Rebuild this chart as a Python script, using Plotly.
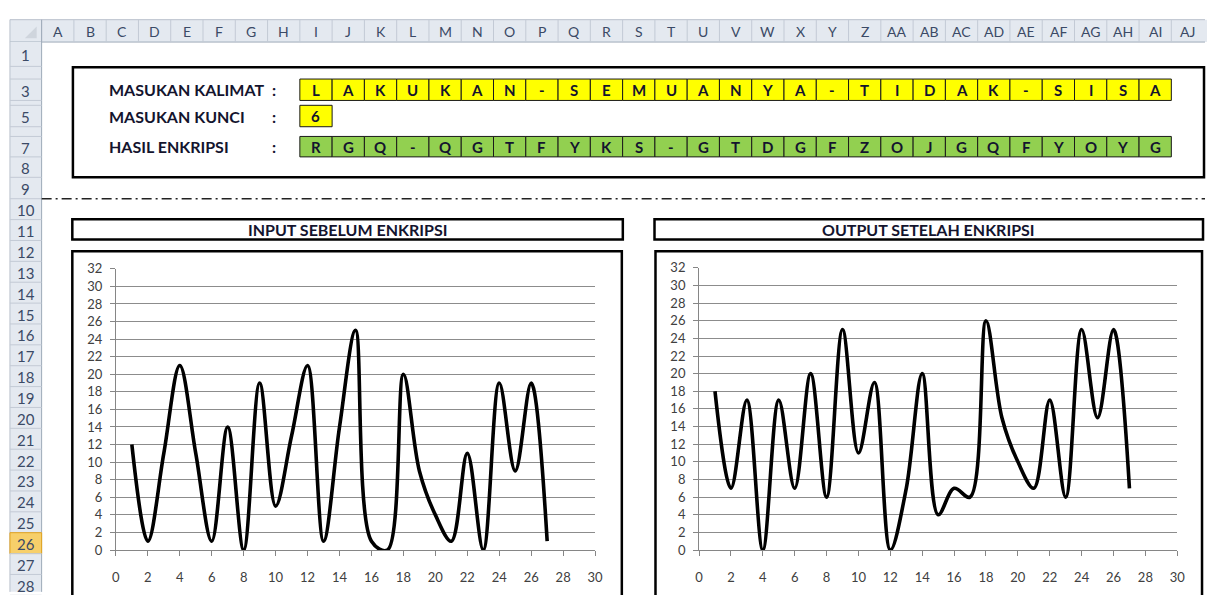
import plotly.graph_objects as go

# ---------------- data ----------------
kalimat = ["L", "A", "K", "U", "K", "A", "N", "-", "S", "E", "M", "U", "A", "N",
           "Y", "A", "-", "T", "I", "D", "A", "K", "-", "S", "I", "S", "A"]
kunci = "6"
hasil = ["R", "G", "Q", "-", "Q", "G", "T", "F", "Y", "K", "S", "-", "G", "T",
         "D", "G", "F", "Z", "O", "J", "G", "Q", "F", "Y", "O", "Y", "G"]
posisi = list(range(1, 28))
nilai_input = [12, 1, 11, 21, 11, 1, 14, 0, 19, 5, 13, 21, 1, 14, 25, 1, 0, 20,
               9, 4, 1, 11, 0, 19, 9, 19, 1]
nilai_output = [18, 7, 17, 0, 17, 7, 20, 6, 25, 11, 19, 0, 7, 20, 4, 7, 6, 26,
                15, 10, 7, 17, 6, 25, 15, 25, 7]
kolom = ["A", "B", "C", "D", "E", "F", "G", "H", "I", "J", "K", "L", "M", "N",
         "O", "P", "Q", "R", "S", "T", "U", "V", "W", "X", "Y", "Z", "AA", "AB",
         "AC", "AD", "AE", "AF", "AG", "AH", "AI", "AJ"]
baris = ["1", "2", "3", "4", "5", "6", "7", "8", "9", "10", "11", "12", "13",
         "14", "15", "16", "17", "18", "19", "20", "21", "22", "23", "24", "25",
         "26", "27", "28"]
label_kalimat = "MASUKAN KALIMAT"
label_kunci = "MASUKAN KUNCI"
label_hasil = "HASIL ENKRIPSI"
judul_input = "INPUT SEBELUM ENKRIPSI"
judul_output = "OUTPUT SETELAH ENKRIPSI"

# ---------------- geometry (pixels) ----------------
W, H = 1213, 595
FONT = "Lato"
COL_X0, COL_W = 38.0, 32.6
ROWHDR_X0 = 6
HDR_Y0, HDR_Y1 = 12, 35
row_bounds = {1: (35, 60), 2: (60, 73), 3: (73, 95), 4: (95, 100), 5: (100, 122),
              6: (122, 132), 7: (132, 153), 8: (153, 174), 9: (174, 196)}
ROW_H = 21.45
for n in range(10, 29):
    row_bounds[n] = (196 + (n - 10) * ROW_H, 196 + (n - 9) * ROW_H)


def cx(i):
    return COL_X0 + i * COL_W


def X(px):
    return px / W


def Y(py):
    return 1 - py / H


shapes = []
ann = []


def rect(x0, y0, x1, y1, fill=None, color=None, lw=1):
    shapes.append(dict(type="rect", xref="paper", yref="paper", layer="below",
                       x0=X(x0), x1=X(x1), y0=Y(y1), y1=Y(y0),
                       fillcolor=fill if fill else "rgba(0,0,0,0)",
                       line=dict(color=color if color else "rgba(0,0,0,0)",
                                 width=lw if color else 0)))


def seg(x0, y0, x1, y1, color, lw=1, dash=None):
    d = dict(color=color, width=lw)
    if dash:
        d["dash"] = dash
    shapes.append(dict(type="line", xref="paper", yref="paper", layer="below",
                       x0=X(x0), x1=X(x1), y0=Y(y0), y1=Y(y1), line=d))


def text(x, y, s, size=13, color="#3b4a66", bold=False, anchor="center"):
    ann.append(dict(xref="paper", yref="paper", x=X(x), y=Y(y), text=s,
                    showarrow=False, xanchor=anchor, yanchor="middle",
                    borderpad=0, borderwidth=0,
                    font=dict(family=FONT, size=size, color=color,
                              weight="bold" if bold else "normal")))


HDR_BG = "#e4e9f0"
HDR_LINE = "#c3cad5"
HDR_TXT = "#3b4a66"

# column header band
rect(ROWHDR_X0, HDR_Y0, W + 2, HDR_Y1, fill=HDR_BG)
seg(ROWHDR_X0, HDR_Y0, W, HDR_Y0, "#b9c1cc", 1)
seg(ROWHDR_X0, HDR_Y1, W, HDR_Y1, "#9eaab9", 1)
for i, c in enumerate(kolom):
    seg(cx(i), HDR_Y0, cx(i), HDR_Y1, HDR_LINE, 1)
    text(cx(i) + COL_W / 2, (HDR_Y0 + HDR_Y1) / 2 + 1, c, 14, HDR_TXT)
shapes.append(dict(type="path", xref="paper", yref="paper", layer="below",
                   path=f"M {X(33)} {Y(31)} L {X(33)} {Y(19)} L {X(21)} {Y(31)} Z",
                   fillcolor="#cfd5dd", line=dict(width=0)))

# row header column
rect(ROWHDR_X0, HDR_Y1, COL_X0, H + 5, fill=HDR_BG)
seg(ROWHDR_X0, HDR_Y0, ROWHDR_X0, H + 5, "#b9c1cc", 1)
seg(COL_X0, HDR_Y0, COL_X0, H + 5, "#9eaab9", 1)
for n in range(1, 29):
    y0, y1 = row_bounds[n]
    lab = baris[n - 1]
    if n == 26:
        rect(ROWHDR_X0, y0, COL_X0, y1, fill="#f7cf6a", color="#e2a31f", lw=1)
    seg(ROWHDR_X0, y1, COL_X0, y1, HDR_LINE, 1)
    if n in (2, 4, 6):
        continue
    text((ROWHDR_X0 + COL_X0) / 2, (y0 + y1) / 2 + 1, lab, 15, HDR_TXT)

# top info box (B2:AJ8)
rect(cx(1) - 1, 61, W - 1, 174, color="#000000", lw=2.5)


def rmid(n):
    return sum(row_bounds[n]) / 2


TXT = "#14142e"
text(106, rmid(3), label_kalimat, 16, TXT, True, "left")
text(106, rmid(5), label_kunci, 16, TXT, True, "left")
text(106, rmid(7), label_hasil, 16, TXT, True, "left")
for n in (3, 5, 7):
    text(273, rmid(n), ":", 16, TXT, True)

FIRST = 8  # column I
for k, ch in enumerate(kalimat):
    y0, y1 = row_bounds[3]
    rect(cx(FIRST + k), y0, cx(FIRST + k + 1), y1, fill="#ffff00", color="#1a1a1a", lw=1)
    text(cx(FIRST + k) + COL_W / 2, (y0 + y1) / 2, ch, 15, TXT, True)
y0, y1 = row_bounds[5]
rect(cx(FIRST), y0, cx(FIRST + 1), y1, fill="#ffff00", color="#1a1a1a", lw=1)
text(cx(FIRST) + COL_W / 2, (y0 + y1) / 2, kunci, 15, TXT, True)
for k, ch in enumerate(hasil):
    y0, y1 = row_bounds[7]
    rect(cx(FIRST + k), y0, cx(FIRST + k + 1), y1, fill="#92d050", color="#1a1a1a", lw=1)
    text(cx(FIRST + k) + COL_W / 2, (y0 + y1) / 2, ch, 15, TXT, True)

# dash-dot separator
seg(COL_X0, 196, W, 196, "#222222", 1.3, "10px,4px,2px,4px")

# chart title boxes
for (x0, x1, t) in [(69, 625, judul_input), (657, 1211, judul_output)]:
    rect(x0, 217, x1, 238, color="#000000", lw=2.5)
    text((x0 + x1) / 2, 227.5, t, 16, TXT, True)
# chart frames
rect(69, 250, 624, H + 10, color="#000000", lw=2.5)
rect(658, 250, 1210, H + 10, color="#000000", lw=2.5)

# ---------------- charts ----------------
fig = go.Figure()
LINE = dict(color="#000000", width=3.6, shape="spline", smoothing=1)
fig.add_trace(go.Scatter(x=posisi, y=nilai_input, mode="lines", line=LINE,
                         xaxis="x", yaxis="y", showlegend=False, hoverinfo="skip"))
fig.add_trace(go.Scatter(x=posisi, y=nilai_output, mode="lines", line=LINE,
                         xaxis="x2", yaxis="y2", showlegend=False, hoverinfo="skip"))

AX_COL = "#868686"
TICKFONT = dict(family=FONT, size=13, color="#404040")
xcommon = dict(range=[0, 30], tick0=0, dtick=2, showgrid=False, zeroline=False,
               showline=True, linecolor=AX_COL, linewidth=1, ticks="outside",
               ticklen=5, tickcolor=AX_COL, tickfont=TICKFONT, fixedrange=True,
               ticklabelstandoff=10)
ycommon = dict(range=[0, 32], tick0=0, dtick=2, showgrid=True, gridcolor="#8c8c8c",
               gridwidth=1, zeroline=False, showline=True, linecolor=AX_COL,
               linewidth=1, ticks="outside", ticklen=5, tickcolor=AX_COL,
               tickfont=TICKFONT, fixedrange=True, ticklabelstandoff=5)

fig.update_layout(
    width=W, height=H, autosize=False,
    margin=dict(l=0, r=0, t=0, b=0, pad=0),
    paper_bgcolor="#ffffff", plot_bgcolor="rgba(0,0,0,0)",
    xaxis=dict(domain=[X(113), X(597)], anchor="y", **xcommon),
    yaxis=dict(domain=[Y(557), Y(268)], anchor="x", **ycommon),
    xaxis2=dict(domain=[X(702), X(1185)], anchor="y2", **xcommon),
    yaxis2=dict(domain=[Y(557), Y(267)], anchor="x2", **ycommon),
    shapes=shapes, annotations=ann, showlegend=False,
)

fig.write_html("out.html", include_plotlyjs=True, full_html=True,
               config={"displayModeBar": False, "staticPlot": True},
               post_script="document.body.style.margin='0';document.body.style.overflow='hidden';")
